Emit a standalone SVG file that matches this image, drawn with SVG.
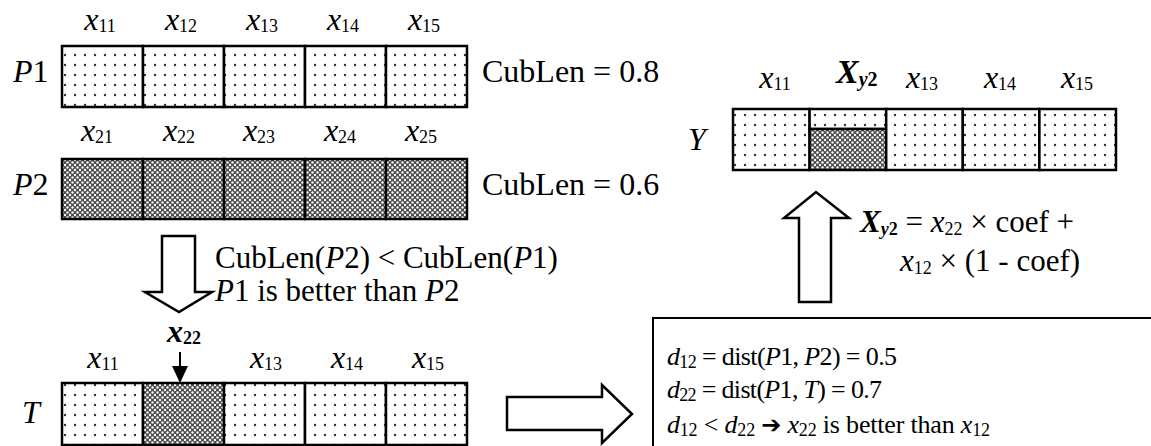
<svg xmlns="http://www.w3.org/2000/svg" width="1151" height="446" viewBox="0 0 1151 446">
<defs>
<pattern id="dots" width="10" height="10" patternUnits="userSpaceOnUse"><rect width="10" height="10" fill="#fff"/><circle cx="5" cy="5" r="1.2" fill="#333"/></pattern>
<pattern id="hatch" width="5" height="5" patternUnits="userSpaceOnUse"><rect width="5" height="5" fill="#4a4a4a"/><circle cx="0" cy="0" r="1.2" fill="#fff"/><circle cx="5" cy="0" r="1.2" fill="#fff"/><circle cx="0" cy="5" r="1.2" fill="#fff"/><circle cx="5" cy="5" r="1.2" fill="#fff"/><circle cx="2.5" cy="2.5" r="1.2" fill="#fff"/></pattern>
</defs>
<style>
text{font-family:"Liberation Serif",serif;fill:#000}
.m{font-size:32px}
.n{font-size:31px}
.f{font-size:31px}
.bx{font-size:26px}
.sub{font-size:18px}
.i{font-style:italic}
.b{font-weight:bold}
.cell{stroke:#000;stroke-width:2.5}
.dot{fill:url(#dots)}
.hat{fill:url(#hatch)}
.harrow{fill:#fff;stroke:#000;stroke-width:2.5;stroke-linejoin:miter}
</style>

<g id="P1">
<text class="m" x="13" y="82"><tspan class="i">P</tspan>1</text>
<rect class="cell dot" x="62" y="46" width="81" height="61"/>
<rect class="cell dot" x="143" y="46" width="81" height="61"/>
<rect class="cell dot" x="224" y="46" width="81" height="61"/>
<rect class="cell dot" x="305" y="46" width="81" height="61"/>
<rect class="cell dot" x="386" y="46" width="81" height="61"/>
<text class="m" x="100" y="30" text-anchor="middle"><tspan class="i">x</tspan><tspan class="sub" dy="2">11</tspan></text>
<text class="m" x="181" y="30" text-anchor="middle"><tspan class="i">x</tspan><tspan class="sub" dy="2">12</tspan></text>
<text class="m" x="262" y="30" text-anchor="middle"><tspan class="i">x</tspan><tspan class="sub" dy="2">13</tspan></text>
<text class="m" x="343" y="30" text-anchor="middle"><tspan class="i">x</tspan><tspan class="sub" dy="2">14</tspan></text>
<text class="m" x="424" y="30" text-anchor="middle"><tspan class="i">x</tspan><tspan class="sub" dy="2">15</tspan></text>
<text class="m" x="482" y="82">CubLen = 0.8</text>
</g>

<g id="P2">
<text class="m" x="13" y="195"><tspan class="i">P</tspan>2</text>
<rect class="cell hat" x="62" y="159" width="81" height="60"/>
<rect class="cell hat" x="143" y="159" width="81" height="60"/>
<rect class="cell hat" x="224" y="159" width="81" height="60"/>
<rect class="cell hat" x="305" y="159" width="81" height="60"/>
<rect class="cell hat" x="386" y="159" width="81" height="60"/>
<text class="m" x="97" y="141" text-anchor="middle"><tspan class="i">x</tspan><tspan class="sub" dy="2">21</tspan></text>
<text class="m" x="179" y="141" text-anchor="middle"><tspan class="i">x</tspan><tspan class="sub" dy="2">22</tspan></text>
<text class="m" x="259" y="141" text-anchor="middle"><tspan class="i">x</tspan><tspan class="sub" dy="2">23</tspan></text>
<text class="m" x="340" y="141" text-anchor="middle"><tspan class="i">x</tspan><tspan class="sub" dy="2">24</tspan></text>
<text class="m" x="421" y="141" text-anchor="middle"><tspan class="i">x</tspan><tspan class="sub" dy="2">25</tspan></text>
<text class="m" x="482" y="195">CubLen = 0.6</text>
</g>

<g id="T">
<text class="m" x="22" y="423"><tspan class="i">T</tspan></text>
<rect class="cell dot" x="62" y="383" width="81" height="62"/>
<rect class="cell hat" x="143" y="383" width="81" height="62"/>
<rect class="cell dot" x="224" y="383" width="81" height="62"/>
<rect class="cell dot" x="305" y="383" width="81" height="62"/>
<rect class="cell dot" x="386" y="383" width="81" height="62"/>
<text class="m" x="103" y="368" text-anchor="middle"><tspan class="i">x</tspan><tspan class="sub" dy="2">11</tspan></text>
<text class="m" x="184" y="342" text-anchor="middle" font-weight="bold"><tspan class="i">x</tspan><tspan class="sub" dy="2">22</tspan></text>
<text class="m" x="266" y="368" text-anchor="middle"><tspan class="i">x</tspan><tspan class="sub" dy="2">13</tspan></text>
<text class="m" x="347" y="368" text-anchor="middle"><tspan class="i">x</tspan><tspan class="sub" dy="2">14</tspan></text>
<text class="m" x="428" y="368" text-anchor="middle"><tspan class="i">x</tspan><tspan class="sub" dy="2">15</tspan></text>
</g>

<g id="Y">
<text class="m" x="688" y="150"><tspan class="i">Y</tspan></text>
<rect class="cell dot" x="733" y="109" width="76.6" height="61"/>
<rect class="cell dot" x="809.6" y="109" width="76.6" height="20"/>
<rect class="cell hat" x="809.6" y="129" width="76.6" height="41"/>
<rect class="cell dot" x="886.2" y="109" width="76.6" height="61"/>
<rect class="cell dot" x="962.8" y="109" width="76.6" height="61"/>
<rect class="cell dot" x="1039.4" y="109" width="76.6" height="61"/>
<text class="m" x="775" y="88" text-anchor="middle"><tspan class="i">x</tspan><tspan class="sub" dy="2">11</tspan></text>
<text x="836" y="83" font-size="34" font-weight="bold"><tspan class="i">X</tspan><tspan font-size="20" dy="3"><tspan class="i">y</tspan>2</tspan></text>
<text class="m" x="922" y="88" text-anchor="middle"><tspan class="i">x</tspan><tspan class="sub" dy="2">13</tspan></text>
<text class="m" x="1000" y="88" text-anchor="middle"><tspan class="i">x</tspan><tspan class="sub" dy="2">14</tspan></text>
<text class="m" x="1077" y="88" text-anchor="middle"><tspan class="i">x</tspan><tspan class="sub" dy="2">15</tspan></text>
</g>

<g id="compare-note">
<text class="n" x="215" y="268">CubLen(<tspan class="i">P</tspan>2) &lt; CubLen(<tspan class="i">P</tspan>1)</text>
<text class="n" x="215" y="301"><tspan class="i">P</tspan>1 is better than <tspan class="i">P</tspan>2</text>
</g>

<g id="formula">
<text class="f" x="860" y="232"><tspan class="b i">X</tspan><tspan class="sub b" dy="3"><tspan class="i">y</tspan>2</tspan><tspan dy="-3"> = </tspan><tspan class="i">x</tspan><tspan class="sub" dy="3">22</tspan><tspan dy="-3"> × coef +</tspan></text>
<text class="f" x="900" y="271"><tspan class="i">x</tspan><tspan class="sub" dy="3">12</tspan><tspan dy="-3"> × (1 - coef)</tspan></text>
</g>

<g id="dist-box">
<rect x="653" y="318" width="530" height="150" fill="#fff" stroke="#000" stroke-width="2"/>
<text class="bx" x="667" y="365" textLength="230" lengthAdjust="spacing"><tspan class="i">d</tspan><tspan class="sub" dy="3">12</tspan><tspan dy="-3"> = dist(</tspan><tspan class="i">P</tspan>1, <tspan class="i">P</tspan>2) = 0.5</text>
<text class="bx" x="667" y="398" textLength="215" lengthAdjust="spacing"><tspan class="i">d</tspan><tspan class="sub" dy="3">22</tspan><tspan dy="-3"> = dist(</tspan><tspan class="i">P</tspan>1, <tspan class="i">T</tspan>) = 0.7</text>
<text class="bx" x="667" y="433" textLength="323" lengthAdjust="spacing"><tspan class="i">d</tspan><tspan class="sub" dy="3">12</tspan><tspan dy="-3"> &lt; </tspan><tspan class="i">d</tspan><tspan class="sub" dy="3">22</tspan><tspan dy="-3"> </tspan><tspan font-family="DejaVu Sans" font-size="24">➔</tspan> <tspan class="i">x</tspan><tspan class="sub" dy="3">22</tspan><tspan dy="-3"> is better than </tspan><tspan class="i">x</tspan><tspan class="sub" dy="3">12</tspan></text>
</g>

<g id="connectors">
<polygon class="harrow" points="162,236 195,236 195,292 212,292 179,312 145,292 162,292"/>
<polygon class="harrow" points="799,302 831,302 831,218 849,218 816,192 784,218 799,218"/>
<polygon class="harrow" points="507,397 602,397 602,385 632,414 602,443 602,430 507,430"/>
<line x1="180" y1="352" x2="180" y2="367" stroke="#000" stroke-width="2"/>
<polygon points="172,366 188,366 180,383" fill="#000"/>
</g>
</svg>
